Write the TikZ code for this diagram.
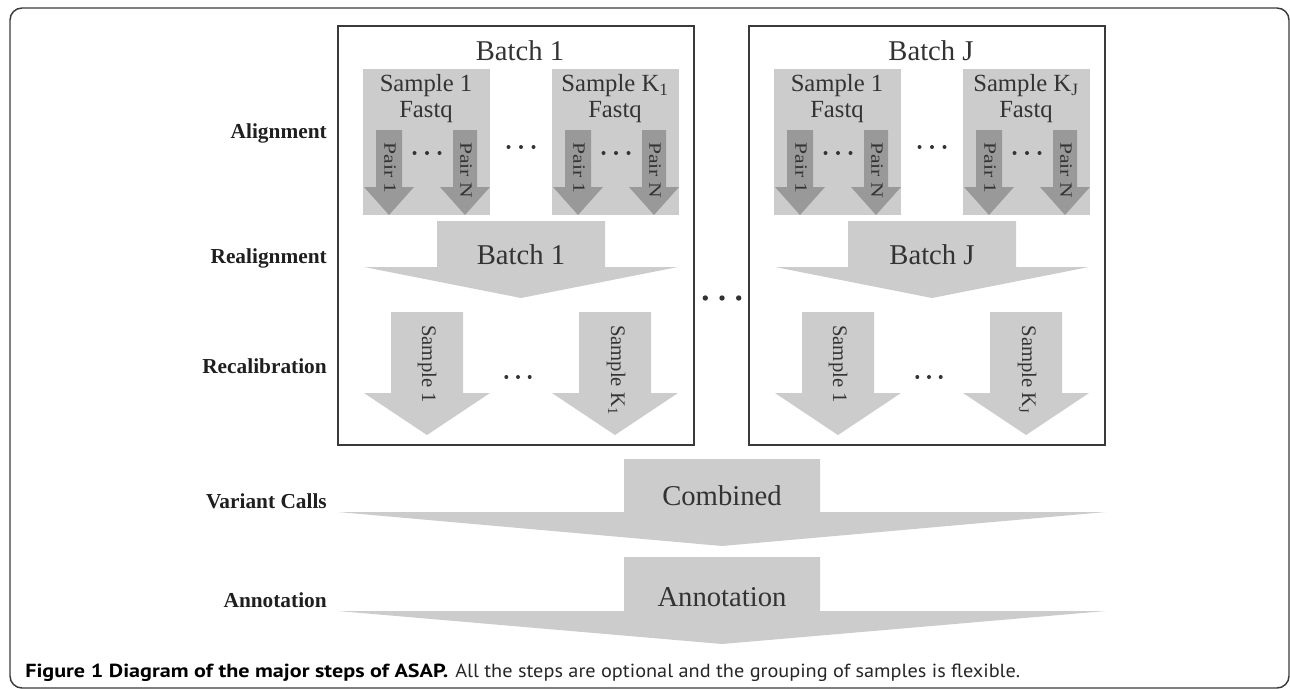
\documentclass[tikz,border=0pt]{standalone}
\usepackage{fontspec}
\usepackage{graphicx}
\setmainfont{Liberation Serif}
\newfontfamily\capfont{PT Sans}
\newlength\pxu
\setlength\pxu{0.75pt}
\definecolor{txt}{HTML}{333333}
\definecolor{bigfill}{HTML}{CCCCCC}
\definecolor{pairfill}{HTML}{999999}
\definecolor{frame}{HTML}{3A3A3A}
\tikzset{
  lbl/.style={anchor=base east, inner sep=0pt, text=black!88, font=\fontsize{16}{18}\selectfont\bfseries},
  bigtxt/.style={anchor=base, inner sep=0pt, text=txt, font=\fontsize{21.5}{24}\selectfont},
  smptxt/.style={inner sep=0pt, text=txt, align=center, font=\fontsize{18.5}{19.5}\selectfont},
  pairtxt/.style={rotate=-90, inner sep=0pt, text=txt, font=\fontsize{13}{14}\selectfont},
  rectxt/.style={rotate=-90, inner sep=0pt, text=txt, font=\fontsize{15.5}{17}\selectfont},
  boxline/.style={draw=frame, line width=1.6pt},
}
% block arrow: #1 colour, #2 centre x, #3 shaft top, #4 shaft half width,
% #5 head base y, #6 head half width, #7 tip y
\newcommand{\barr}[7]{%
  \fill[#1] ({#2-#4},#3) -- ({#2+#4},#3) -- ({#2+#4},#5) -- ({#2+#6},#5)
    -- (#2,#7) -- ({#2-#6},#5) -- ({#2-#4},#5) -- cycle;}
% three dots: #1 x, #2 y, #3 spacing, #4 radius
\newcommand{\threedots}[4]{%
  \foreach \k in {-1,0,1} {\fill[txt] ({#1+\k*#3},#2) circle (#4);}}
% one sample box with its two pair arrows: #1 left x, #2 prefix, #3 sample label
\newcommand{\samplebox}[3]{%
  \fill[bigfill] (#1,69) rectangle ({#1+127},215);
  \node[smptxt] (#2txt) at ({#1+63},99) {#3\\Fastq};
  \barr{pairfill}{#1+26}{130}{13}{187}{25}{215}
  \barr{pairfill}{#1+102}{130}{12}{187}{25}{215}
  \node[pairtxt] (#2p1) at ({#1+27},168) {\scalebox{1.25}[1]{Pair 1}};
  \node[pairtxt] (#2pn) at ({#1+103},170) {\scalebox{1.25}[1]{Pair N}};
  \threedots{#1+64}{153}{12.5}{2}
}
% one batch: #1 left x, #2 prefix, #3 batch letter, #4 K subscript
\newcommand{\batchblock}[4]{%
  \draw[boxline] (#1,26) rectangle ({#1+356},445);
  \node[bigtxt] (#2title) at ({#1+182},60) {Batch #3};
  \samplebox{#1+25}{#2sa}{Sample 1}
  \samplebox{#1+214}{#2sb}{Sample K\textsubscript{#4}}
  \threedots{#1+183}{147}{12.5}{2}
  \barr{bigfill}{#1+183}{221}{84}{267}{157}{298}
  \node[bigtxt] (#2realign) at ({#1+183},264) {Batch #3};
  \barr{bigfill}{#1+89}{312}{36}{393}{63}{435}
  \barr{bigfill}{#1+277}{312}{36}{393}{63}{435}
  \node[rectxt] (#2ra) at ({#1+89},364) {Sample 1};
  \node[rectxt] (#2rb) at ({#1+278},370) {Sample K\textsubscript{#4}};
  \threedots{#1+180}{377}{11.7}{2}
}
\begin{document}
\begin{tikzpicture}[x=0.75pt,y=-0.75pt]
\useasboundingbox (0,0) rectangle (1290,689);
% outer frame
\draw[draw=frame, line width=1.1pt, rounded corners=9pt] (10,8) rectangle (1289,688);
% row labels
\node[lbl] (lalign) at (327,138) {Alignment};
\node[lbl] (lrealign) at (327,263) {Realignment};
\node[lbl] (lrecal) at (327,373) {Recalibration};
\node[lbl] (lvar) at (327,508) {Variant Calls};
\node[lbl] (lann) at (327,607) {Annotation};
% batches
\batchblock{338}{bone}{1}{1}
\batchblock{749}{bj}{J}{J}
% dots between batches
\threedots{722}{298}{16.7}{2.7}
% combined variant calls
\barr{bigfill}{722}{459}{98}{512}{384}{546}
\node[bigtxt] (comb) at (722,505) {Combined};
% annotation
\barr{bigfill}{722}{557}{98}{611}{384}{644}
\node[bigtxt] (annot) at (722,606) {Annotation};
% caption
\node[anchor=base west, inner sep=0pt] (cap) at (25,677)
  {\resizebox{423\pxu}{13.5\pxu}{\capfont\bfseries Figure 1 Diagram of the major steps of ASAP.}\hspace{7\pxu}%
   \textcolor{black!85}{\resizebox{565\pxu}{13.5\pxu}{\capfont All the steps are optional and the grouping of samples is flexible.}}};
\end{tikzpicture}
\end{document}
